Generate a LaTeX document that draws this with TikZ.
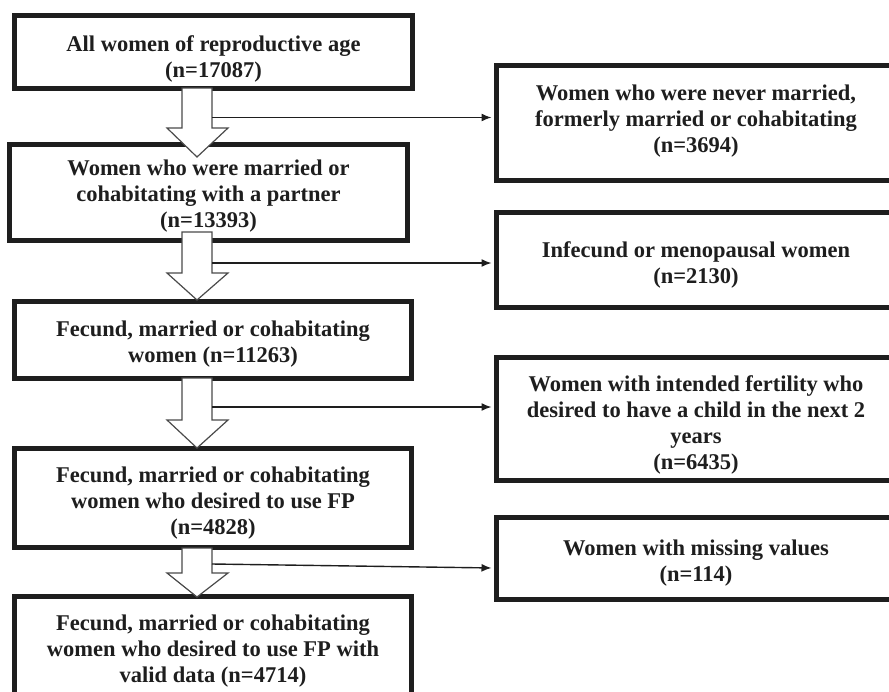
\documentclass[tikz,border=0pt]{standalone}
\usepackage{fontspec}
\setmainfont{Liberation Serif}
\usetikzlibrary{arrows.meta}
\definecolor{ink}{HTML}{1E1E1E}
\definecolor{arrowline}{HTML}{4A4A4A}
\begin{document}
\begin{tikzpicture}[x=1pt,y=-1pt,
  box/.style={draw=ink, line width=5pt, fill=white, inner sep=0pt},
  txt/.style={align=center, inner sep=0pt, font=\bfseries\fontsize{22.5}{26}\selectfont, text=ink},
  blockarrow/.style={draw=arrowline, fill=white, line width=1.2pt, line join=miter},
  conn/.style={draw=ink, line width=1.4pt, -{Latex[length=10pt,width=8pt]}, shorten >=2.5pt}]
\useasboundingbox (0,0) rectangle (889,691);
\begin{scope}
\clip (0,0) rectangle (889,691);
% left column boxes
\node[box, minimum width=398pt, minimum height=73pt] (b1) at (213.5,52) {};
\node[box, minimum width=398pt, minimum height=96pt] (b2) at (208.5,192.5) {};
\node[box, minimum width=397pt, minimum height=77pt] (b3) at (213,340) {};
\node[box, minimum width=397pt, minimum height=99pt] (b4) at (213,498) {};
\node[box, minimum width=397pt, minimum height=109pt] (b5) at (213,651) {};
% right column boxes
\node[box, minimum width=399pt, minimum height=115pt] (r1) at (696,123) {};
\node[box, minimum width=399pt, minimum height=95pt] (r2) at (696,260) {};
\node[box, minimum width=399pt, minimum height=123pt] (r3) at (696,419) {};
\node[box, minimum width=399pt, minimum height=82pt] (r4) at (696,558.5) {};
% texts
\node[txt] (t1) at (213.5,58.5) {All women of reproductive age\\(n=17087)};
\node[txt] (t2) at (208.5,196) {Women who were married or\\cohabitating with a partner\\(n=13393)};
\node[txt] (t3) at (213,344.5) {Fecund, married or cohabitating\\women (n=11263)};
\node[txt] (t4) at (213,503) {Fecund, married or cohabitating\\women who desired to use FP\\(n=4828)};
\node[txt] (t5) at (213,651) {Fecund, married or cohabitating\\women who desired to use FP with\\valid data (n=4714)};
\node[txt] (u1) at (696,121) {Women who were never married,\\formerly married or cohabitating\\(n=3694)};
\node[txt] (u2) at (696,264.5) {Infecund or menopausal women\\(n=2130)};
\node[txt] (u3) at (696,425) {Women with intended fertility who\\desired to have a child in the next 2\\years\\(n=6435)};
\node[txt] (u4) at (696,563) {Women with missing values\\(n=114)};
% block arrows
\draw[blockarrow] (182,88) -- (182,128) -- (167,128) -- (197,157) -- (228,128) -- (212,128) -- (212,88) -- cycle;
\draw[blockarrow] (182,232) -- (182,273) -- (167,273) -- (197,300) -- (228,273) -- (212,273) -- (212,232) -- cycle;
\draw[blockarrow] (182,378) -- (182,420) -- (167,420) -- (197,448) -- (228,420) -- (212,420) -- (212,378) -- cycle;
\draw[blockarrow] (182,548) -- (182,573) -- (167,573) -- (197,597) -- (228,573) -- (212,573) -- (212,548) -- cycle;
% connectors
\coordinate (a1) at (212,117.5);
\coordinate (a2) at (212,263);
\coordinate (a3) at (212,407);
\coordinate (a4) at (212,564);
\draw[conn] (a1) -- (a1 -| r1.west);
\draw[conn] (a2) -- (a2 -| r2.west);
\draw[conn] (a3) -- (a3 -| r3.west);
\draw[conn] (a4) -- ([yshift=-4pt]a4 -| r4.west);
\end{scope}
\end{tikzpicture}
\end{document}
